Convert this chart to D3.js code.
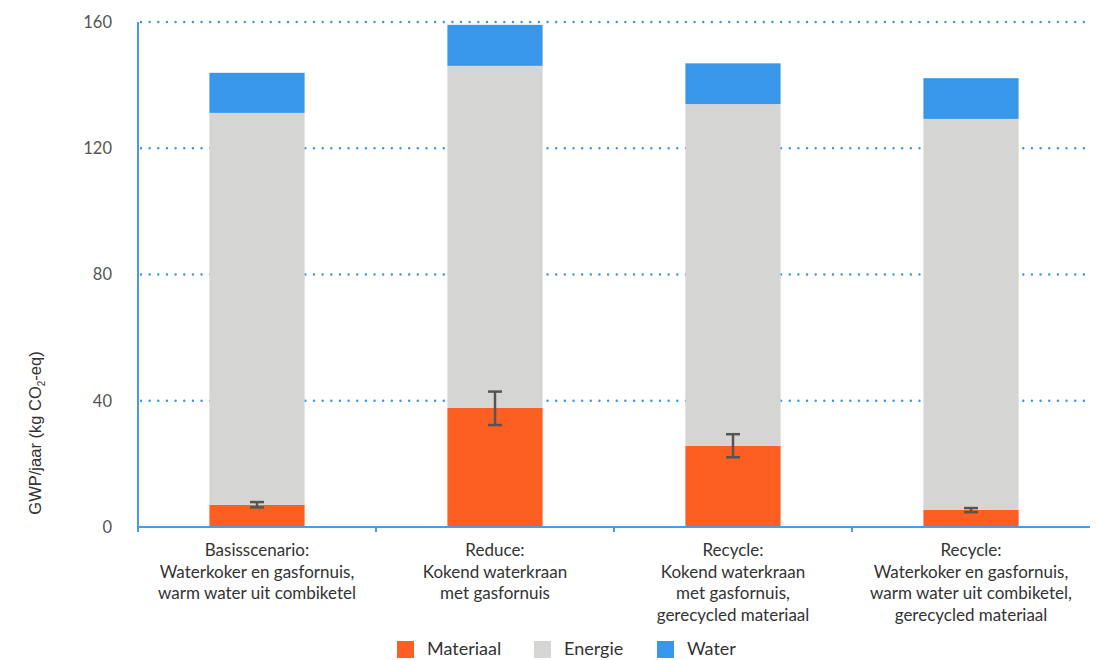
<!DOCTYPE html>
<html>
<head>
<meta charset="utf-8">
<script src="https://cdn.jsdelivr.net/npm/d3@7"></script>
<style>
body{margin:0;background:#fff;}
svg text{font-family:Lato,"Open Sans",sans-serif;}
</style>
</head>
<body>
<svg id="chart" width="1097" height="660"></svg>
<script>
const categories = ["Basisscenario", "Reduce", "Recycle1", "Recycle2"];
const categoryLabels = [
  ["Basisscenario:", "Waterkoker en gasfornuis,", "warm water uit combiketel"],
  ["Reduce:", "Kokend waterkraan", "met gasfornuis"],
  ["Recycle:", "Kokend waterkraan", "met gasfornuis,", "gerecycled materiaal"],
  ["Recycle:", "Waterkoker en gasfornuis,", "warm water uit combiketel,", "gerecycled materiaal"]
];
const seriesNames = ["Materiaal", "Energie", "Water"];
const materiaal = [7.0, 37.7, 25.7, 5.4];
const energie = [124.2, 108.4, 108.3, 123.9];
const water = [12.7, 13.0, 12.9, 12.9];
const errLow = [6.2, 32.3, 22.1, 4.7];
const errHigh = [7.9, 42.9, 29.4, 6.0];
const yTicks = [0, 40, 80, 120, 160];
const colors = ["#fd5e22", "#d5d5d4", "#3897e9"];

const svg = d3.select("#chart");
const mLeft = 138, mRight = 1090, mTop = 22, mBottom = 527;

const x = d3.scaleBand().domain(categories).range([mLeft, mRight]).paddingInner(0.6).paddingOuter(0.3);
const y = d3.scaleLinear().domain([0, 160]).range([mBottom, mTop]);

// gridlines
svg.append("g").selectAll("line").data(yTicks.filter(d => d > 0)).join("line")
  .attr("x1", mLeft + 3).attr("x2", mRight).attr("y1", d => y(d)).attr("y2", d => y(d))
  .attr("stroke", "#3a92e6").attr("stroke-width", 2.4)
  .attr("stroke-linecap", "round").attr("stroke-dasharray", "0,8.65");

// y tick labels
svg.append("g").selectAll("text").data(yTicks).join("text")
  .attr("x", 112).attr("y", d => y(d)).attr("dy", "0.35em")
  .attr("text-anchor", "end").attr("font-size", 16.5).attr("fill", "#555")
  .text(d => d);

// stacked bars
const table = categories.map((c, i) => ({cat: c, Materiaal: materiaal[i], Energie: energie[i], Water: water[i]}));
const stack = d3.stack().keys(seriesNames)(table);
svg.append("g").selectAll("g").data(stack).join("g")
  .attr("fill", (d, i) => colors[i])
  .selectAll("rect").data(d => d).join("rect")
  .attr("x", d => x(d.data.cat)).attr("width", x.bandwidth())
  .attr("y", d => y(d[1])).attr("height", d => y(d[0]) - y(d[1]));

// error bars
const eb = svg.append("g").attr("stroke", "#555").attr("stroke-width", 2.5);
categories.forEach((c, i) => {
  const cx = x(c) + x.bandwidth() / 2;
  eb.append("line").attr("x1", cx).attr("x2", cx).attr("y1", y(errHigh[i])).attr("y2", y(errLow[i]));
  eb.append("line").attr("x1", cx - 7).attr("x2", cx + 7).attr("y1", y(errHigh[i])).attr("y2", y(errHigh[i]));
  eb.append("line").attr("x1", cx - 7).attr("x2", cx + 7).attr("y1", y(errLow[i])).attr("y2", y(errLow[i]));
});

// axes
const axisColor = "#4a9be8";
svg.append("line").attr("x1", mLeft).attr("x2", mLeft).attr("y1", mTop).attr("y2", mBottom + 5)
  .attr("stroke", axisColor).attr("stroke-width", 2);
svg.append("line").attr("x1", mLeft).attr("x2", mRight).attr("y1", mBottom).attr("y2", mBottom)
  .attr("stroke", axisColor).attr("stroke-width", 2);
const step = x.step();
svg.append("g").selectAll("line").data(categories.slice(1)).join("line")
  .attr("x1", d => x(d) - step * x.paddingInner() / 2).attr("x2", d => x(d) - step * x.paddingInner() / 2)
  .attr("y1", mBottom).attr("y2", mBottom + 5).attr("stroke", axisColor).attr("stroke-width", 2);

// category labels
categories.forEach((c, i) => {
  const t = svg.append("text").attr("text-anchor", "middle").attr("font-size", 17).attr("fill", "#333")
    .attr("x", x(c) + x.bandwidth() / 2).attr("y", 556);
  categoryLabels[i].forEach((line, j) => {
    t.append("tspan").attr("x", x(c) + x.bandwidth() / 2).attr("dy", j === 0 ? 0 : 21.7).text(line);
  });
});

// y axis title
const yt = svg.append("text").attr("transform", "translate(41,433) rotate(-90)")
  .attr("text-anchor", "middle").attr("font-size", 16.5).attr("fill", "#333")
  .style("font-family", "'Liberation Sans', Arial, sans-serif");
yt.append("tspan").text("GWP/jaar (kg CO");
yt.append("tspan").attr("font-size", 10).attr("dy", 3.5).text("2");
yt.append("tspan").attr("dy", -3.5).text("-eq)");

// legend
const legendX = [397, 534, 657];
const lg = svg.append("g");
seriesNames.forEach((s, i) => {
  lg.append("rect").attr("x", legendX[i]).attr("y", 641).attr("width", 17).attr("height", 17).attr("fill", colors[i]);
  lg.append("text").attr("x", legendX[i] + 30).attr("y", 655)
    .attr("font-size", 18).attr("fill", "#333").text(s);
});
</script>
</body>
</html>
